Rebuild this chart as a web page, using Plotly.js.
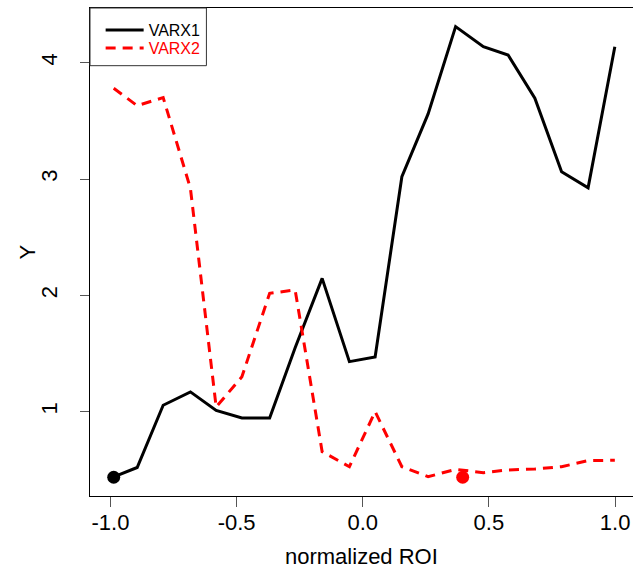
<!DOCTYPE html>
<html>
<head>
<meta charset="utf-8">
<script src="https://cdn.plot.ly/plotly-3.0.1.min.js"></script>
<style>html,body{margin:0;padding:0;background:#fff;}#chart{width:633px;height:570px;}</style>
</head>
<body>
<div id="chart"></div>
<script>
// normalized ROI values (x) shared by both series
var roi = [-0.987, -0.894, -0.791, -0.683, -0.581, -0.479, -0.369, -0.268, -0.161, -0.053,
           0.049, 0.155, 0.259, 0.368, 0.478, 0.576, 0.682, 0.788, 0.893, 0.999];
var varx1 = [0.44, 0.52, 1.055, 1.17, 1.01, 0.945, 0.945, 1.55, 2.146, 1.43,
             1.47, 3.02, 3.56, 4.31, 4.137, 4.066, 3.694, 3.063, 2.925, 4.137];
var varx2 = [3.78, 3.63, 3.70, 2.92, 1.04, 1.30, 2.017, 2.046, 0.656, 0.527,
             1.0, 0.527, 0.441, 0.504, 0.476, 0.499, 0.507, 0.527, 0.579, 0.582];
// highlighted points
var dot1 = {x: [-0.987], y: [0.436]};
var dot2 = {x: [0.396], y: [0.436]};
var xTicks = [-1.0, -0.5, 0.0, 0.5, 1.0];
var xTickText = ["-1.0", "-0.5", "0.0", "0.5", "1.0"];
var yTicks = [1, 2, 3, 4];
var xTitle = "normalized ROI";
var yTitle = "Y";

var font = "Liberation Sans, Arial, sans-serif";
var traces = [
  {x: roi, y: varx1, type: "scatter", mode: "lines", name: "VARX1", legend: "legend",
   line: {color: "#000000", width: 3}},
  {x: roi, y: varx2, type: "scatter", mode: "lines", name: '<span style="color:#ff0000">VARX2</span>',
   legend: "legend2", line: {color: "#ff0000", width: 3, dash: "10px,7px"}},
  {x: dot1.x, y: dot1.y, type: "scatter", mode: "markers", showlegend: false,
   marker: {color: "#000000", size: 13}},
  {x: dot2.x, y: dot2.y, type: "scatter", mode: "markers", showlegend: false,
   marker: {color: "#ff0000", size: 13}}
];
var legendBase = {xanchor: "left", yanchor: "middle", bgcolor: "rgba(0,0,0,0)",
                  borderwidth: 0, itemwidth: 38, font: {size: 16, family: font, color: "#000"}};
var layout = {
  width: 633, height: 570,
  margin: {l: 89.5, r: 0, t: 8, b: 74},
  paper_bgcolor: "#fff", plot_bgcolor: "#fff",
  font: {family: font, color: "#000", size: 22},
  showlegend: true,
  legend: Object.assign({}, legendBase, {x: 0.0196, y: 0.9549}),
  legend2: Object.assign({}, legendBase, {x: 0.0196, y: 0.918}),
  shapes: [{type: "rect", xref: "paper", yref: "paper", x0: 0, x1: 0.2144, y0: 0.8818, y1: 1,
            line: {color: "#333", width: 1}, fillcolor: "#fff", layer: "above"}],
  annotations: [
    {text: xTitle, xref: "paper", yref: "paper", x: 0.5, y: -0.1512, xanchor: "center", yanchor: "bottom",
     borderpad: 0, showarrow: false, font: {size: 22, family: font, color: "#000"}},
    {text: yTitle, xref: "paper", yref: "paper", x: -0.1168, y: 0.5, xanchor: "center", yanchor: "middle",
     textangle: -90, showarrow: false, font: {size: 22, family: font, color: "#000"}}
  ],
  xaxis: {range: [-1.081, 1.071], tickvals: xTicks, ticktext: xTickText,
          showgrid: false, zeroline: false, showline: true, mirror: true, linecolor: "#000", linewidth: 1,
          ticks: "outside", ticklen: 10, tickcolor: "#555", tickwidth: 1, ticklabelstandoff: -3,
          tickfont: {size: 22, family: font}},
  yaxis: {range: [0.275, 4.47], tickvals: yTicks, tickangle: -90,
          showgrid: false, zeroline: false, showline: true, mirror: false, linecolor: "#000", linewidth: 1,
          ticks: "outside", ticklen: 9.5, tickcolor: "#555", tickwidth: 1, ticklabelstandoff: 14,
          tickfont: {size: 22, family: font}}
};
Plotly.newPlot("chart", traces, layout, {displayModeBar: false, staticPlot: true});
</script>
</body>
</html>
